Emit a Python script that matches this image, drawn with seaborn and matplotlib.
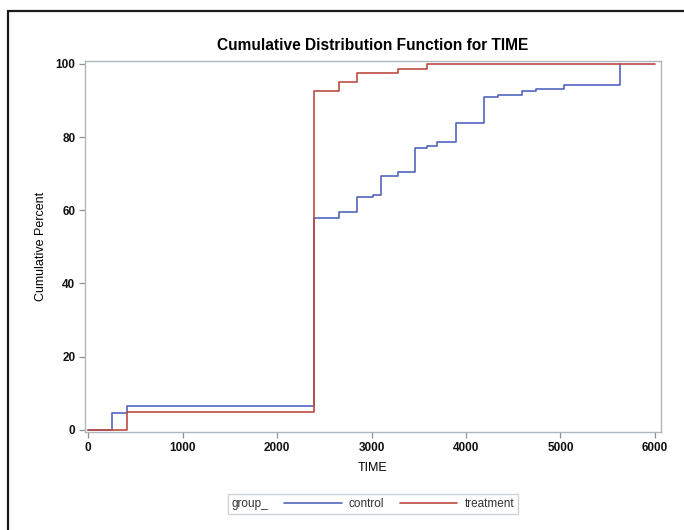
import numpy as np
import pandas as pd
import matplotlib
matplotlib.use("Agg")
import matplotlib.pyplot as plt
import seaborn as sns
from matplotlib.patches import Rectangle

# ---- data ----
control_time = [0, 248, 405, 2385, 2650, 2850, 3010, 3100, 3275, 3465, 3582,
                3692, 3890, 4195, 4340, 4590, 4740, 5035, 5630]
control_pct = [0, 4.7, 6.5, 57.9, 59.6, 63.6, 64.2, 69.3, 70.5, 77.0, 77.7,
               78.8, 84.0, 90.9, 91.4, 92.5, 93.2, 94.3, 100]
treatment_time = [0, 405, 2385, 2650, 2850, 3280, 3590, 6000]
treatment_pct = [0, 5.0, 92.5, 95.0, 97.5, 98.75, 100, 100]
groups = ["control", "treatment"]
x_ticks = [0, 1000, 2000, 3000, 4000, 5000, 6000]
y_ticks = [0, 20, 40, 60, 80, 100]

df = pd.concat([
    pd.DataFrame({"TIME": control_time, "Cumulative Percent": control_pct, "group_": "control"}),
    pd.DataFrame({"TIME": treatment_time, "Cumulative Percent": treatment_pct, "group_": "treatment"}),
], ignore_index=True)

sns.set_theme(style="white")
plt.rcParams["font.family"] = ["Liberation Sans", "DejaVu Sans"]

W, H = 684, 530
fig = plt.figure(figsize=(W / 100, H / 100), dpi=100)
ax = fig.add_axes([85 / W, 1 - 432 / H, (660.7 - 85) / W, (432 - 60.7) / H])

palette = {"control": "#5366BC", "treatment": "#BC4A42"}
sns.lineplot(data=df, x="TIME", y="Cumulative Percent", hue="group_",
             hue_order=groups, palette=palette, estimator=None, sort=True,
             drawstyle="steps-post", linewidth=1.2, legend=False, ax=ax)

ax.set_xlim(-35, 6062)
ax.set_ylim(-0.6, 100.9)
ax.set_xticks(x_ticks)
ax.set_yticks(y_ticks)
ax.set_xticklabels([str(v) for v in x_ticks], fontweight="bold")
ax.set_yticklabels([str(v) for v in y_ticks], fontweight="bold")
spine_col = "#AEB6BE"
for s in ax.spines.values():
    s.set_color(spine_col)
    s.set_linewidth(1.0)
ax.tick_params(axis="both", which="major", direction="out", length=4, width=0.9,
               color="#8A9096", labelsize=8.5, labelcolor="#111111", pad=3,
               bottom=True, left=True)
ax.set_xlabel("TIME", fontsize=9, color="black", labelpad=6)
ax.set_ylabel("Cumulative Percent", fontsize=9, color="black", labelpad=6)
ax.set_title("Cumulative Distribution Function for TIME", fontsize=11.2,
             fontweight="bold", color="black", pad=8)

# legend with title on the left
handles = [plt.Line2D([], [], color=palette[g], lw=1.2) for g in groups]
leg = fig.legend(handles, groups, title="group_", ncol=2, loc="center",
                 bbox_to_anchor=(373 / W, 1 - 504 / H), frameon=True,
                 fontsize=8.5, title_fontsize=8.5, handlelength=4.9,
                 handletextpad=0.6, columnspacing=1.3, borderpad=0.35,
                 fancybox=False)
leg.get_frame().set_edgecolor("#C4C8CC")
leg.get_frame().set_linewidth(1.0)
for t in leg.get_texts():
    t.set_color("#333333")
leg.get_title().set_color("#333333")
c = leg.get_children()[0]
title_box = c.get_children()[0]
hpack = c.get_children()[1]
c._children.remove(title_box)
hpack._children.insert(0, title_box)

# partial outer frame of the figure
fig.patches.append(Rectangle((8 / W, -0.2), 1.5, 1 - 11 / H + 0.2,
                             transform=fig.transFigure, fill=False,
                             edgecolor="#1a1a1a", linewidth=1.6))

fig.savefig("out.png", dpi=100)
